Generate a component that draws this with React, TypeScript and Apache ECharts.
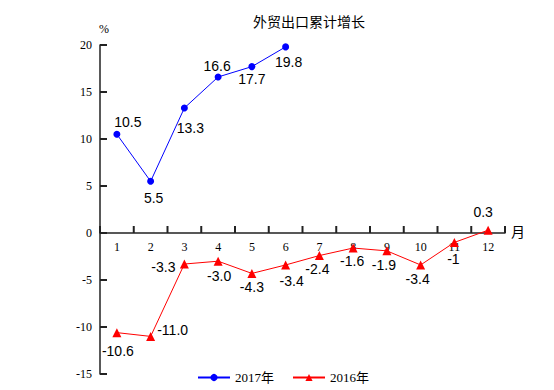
import React, { useEffect, useRef } from "react";
import * as echarts from "echarts";

const months = ["1", "2", "3", "4", "5", "6", "7", "8", "9", "10", "11", "12"];
const values2017 = [10.5, 5.5, 13.3, 16.6, 17.7, 19.8];
const labels2017 = ["10.5", "5.5", "13.3", "16.6", "17.7", "19.8"];
const values2016 = [-10.6, -11.0, -3.3, -3.0, -4.3, -3.4, -2.4, -1.6, -1.9, -3.4, -1, 0.3];
const labels2016 = ["-10.6", "-11.0", "-3.3", "-3.0", "-4.3", "-3.4", "-2.4", "-1.6", "-1.9", "-3.4", "-1", "0.3"];
const yTicks = { min: -15, max: 20, interval: 5 };

const off2017 = [[11, -12], [3, 17], [6, 20], [-1, -11], [0, 12], [3, 15]];
const off2016 = [[1, 18], [22, -6], [-21, 3], [1, 15], [0, 14], [6, 16], [-2, 13], [-1, 13], [-3, 14], [-3, 14], [-1, 17], [-5, -18]];

export default function App() {
  const ref = useRef<HTMLDivElement>(null);
  useEffect(() => {
    if (!ref.current) return;
    const chart = echarts.init(ref.current, undefined, { renderer: "svg" });
    const labelStyle = (text: string, off: number[]) => ({
      show: true,
      position: "inside",
      offset: off,
      formatter: text,
      fontFamily: "Liberation Sans, Arial, sans-serif",
      fontSize: 14,
      color: "#000",
    });
    const gridTop = 45;
    const gridBottom = 16;
    const gridH = 390 - gridTop - gridBottom;
    const zeroOffset = -gridH * (0 - yTicks.min) / (yTicks.max - yTicks.min);
    const axisColor = "#222";
    chart.setOption({
      animation: false,
      backgroundColor: "#fff",
      title: {
        text: "外贸出口累计增长",
        left: 304,
        top: 9,
        textAlign: "center",
        textStyle: { fontFamily: "Noto Sans CJK SC", fontSize: 14, fontWeight: "normal", color: "#000" },
      },
      grid: { left: 100, right: 49, top: gridTop, bottom: gridBottom, containLabel: false },
      legend: {
        left: 192,
        top: 366,
        itemWidth: 32,
        itemHeight: 9,
        itemGap: 18,
        textStyle: { fontFamily: "Liberation Serif, Noto Sans CJK SC", fontSize: 13, color: "#000" },
        data: ["2017年", "2016年"],
      },
      xAxis: {
        type: "category",
        data: months,
        boundaryGap: true,
        position: "bottom",
        offset: zeroOffset,
        axisLine: { show: true, onZero: false, lineStyle: { color: axisColor, width: 1.5 } },
        axisTick: { show: false },
        axisLabel: { margin: 8, fontFamily: "Liberation Serif", fontSize: 12, color: "#000", interval: 0 },
      },
      yAxis: {
        type: "value",
        min: yTicks.min,
        max: yTicks.max,
        interval: yTicks.interval,
        splitLine: { show: false },
        axisLine: { show: true, onZero: false, lineStyle: { color: axisColor, width: 1.5 } },
        axisTick: { show: false },
        axisLabel: { margin: 8, fontFamily: "Liberation Serif", fontSize: 12, color: "#000" },
      },
      series: [
        {
          name: "2017年",
          type: "line",
          symbol: "circle",
          symbolSize: 7,
          itemStyle: { color: "#0000FF" },
          lineStyle: { color: "#0000FF", width: 1 },
          data: values2017.map((v, i) => ({ value: v, label: labelStyle(labels2017[i], off2017[i]) })),
        },
        {
          name: "2016年",
          type: "line",
          symbol: "triangle",
          symbolSize: 9,
          itemStyle: { color: "#FF0000" },
          lineStyle: { color: "#FF0000", width: 1 },
          data: values2016.map((v, i) => ({ value: v, label: labelStyle(labels2016[i], off2016[i]) })),
        },
      ],
    });

    // axis ticks drawn through the library's scales
    const graphics: any[] = [];
    const x0 = chart.convertToPixel({ xAxisIndex: 0 }, 0) as number;
    const x1 = chart.convertToPixel({ xAxisIndex: 0 }, 1) as number;
    const band = x1 - x0;
    const yZero = chart.convertToPixel({ yAxisIndex: 0 }, 0) as number;
    const xLeft = x0 - band / 2;
    for (let i = 0; i <= months.length; i++) {
      const x = xLeft + i * band;
      graphics.push({ type: "rect", silent: true, z: 100, shape: { x: x - 1, y: yZero - 7, width: 2, height: 7 }, style: { fill: axisColor } });
    }
    for (let v = yTicks.min; v <= yTicks.max; v += yTicks.interval) {
      const y = chart.convertToPixel({ yAxisIndex: 0 }, v) as number;
      graphics.push({ type: "rect", silent: true, z: 100, shape: { x: xLeft, y: y - 1, width: 7, height: 2 }, style: { fill: axisColor } });
    }
    const yTop = chart.convertToPixel({ yAxisIndex: 0 }, yTicks.max) as number;
    graphics.push({ type: "text", x: xLeft - 1, y: yTop - 22, style: { text: "%", fontFamily: "Liberation Serif", fontSize: 12, fill: "#000" } });
    graphics.push({ type: "text", x: xLeft + months.length * band + 6, y: yZero - 9, style: { text: "月", fontFamily: "Noto Sans CJK SC", fontSize: 14, fill: "#000" } });
    chart.setOption({ graphic: graphics });
    return () => chart.dispose();
  }, []);
  return <div ref={ref} style={{ width: 554, height: 390, position: "absolute", left: 0, top: 0 }} />;
}
